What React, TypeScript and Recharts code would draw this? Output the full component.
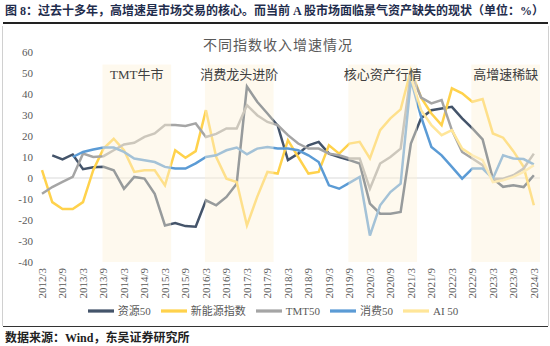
import React from "react";
import { LineChart, Line, XAxis, YAxis, ReferenceArea, ReferenceLine, Legend } from "recharts";

const quarters = [
  "2012/3", "2012/6", "2012/9", "2012/12", "2013/3", "2013/6", "2013/9", "2013/12",
  "2014/3", "2014/6", "2014/9", "2014/12", "2015/3", "2015/6", "2015/9", "2015/12",
  "2016/3", "2016/6", "2016/9", "2016/12", "2017/3", "2017/6", "2017/9", "2017/12",
  "2018/3", "2018/6", "2018/9", "2018/12", "2019/3", "2019/6", "2019/9", "2019/12",
  "2020/3", "2020/6", "2020/9", "2020/12", "2021/3", "2021/6", "2021/9", "2021/12",
  "2022/3", "2022/6", "2022/9", "2022/12", "2023/3", "2023/6", "2023/9", "2023/12",
  "2024/3",
];

const resources50 = [
  null, 10.8, 8.9, 11.2, 4.2, 5.1, 5.3, 3.7, -5.1, 0.5, -0.3, -7.5, -22.6, -21.5, -22.9, -23.2,
  -10.6, -13, -9, -2.7, 43.5, 36.3, 30.7, 25, 8.5, 11.6, 15.6, 17.2, 11.6, 10, 8.5, 6.9,
  -12.2, -17, -17, -16.2, 16.4, 28.5, 32.3, 33.1, 33.9, 28.4, 23.6, 18.4, -0.3, -4.2, -3.5, -4.3,
  1.3,
];

const newEnergy = [
  3.7, -11.5, -14.8, -14.8, -11.5, 3.7, 14, 18.7, 13.2, 2.9, 3.7, 3.7, -3.5, 13.2, 9.6, 12.8,
  32.3, 10, -0.3, -1.9, -22.6, -9, 2.9, 2.1, 18, 10, 2.1, 2.9, 15.6, 11.6, 16.4, 17.2,
  9.3, 22.8, 28.4, 32.7, 51.4, 38.3, 30.7, 25.2, 42.7, 40.3, 36.3, 37.6, 21.2, 19.2, 12.8, 5.3,
  -13,
];

const tmt50 = [
  -7.5, -4.3, -1.9, 0.5, 11.6, 10, 10.4, 13.2, 16, 16.8, 19.6, 21.2, 25.2, 25.2, 24.8, 26,
  19.5, 21, 23.6, 23.6, 34.7, 29.9, 26.7, 25.2, 20.4, 16.4, 14, 14, 11.6, 10.8, 9.3, 9.3,
  -5.1, 6.9, 10, 14, 49.9, 38.3, 35.5, 37.1, 22.8, 12.4, 9.3, 6.1, -0.3, -0.3, 1.3, 4.5,
  11.6,
];

const consumer50 = [
  null, null, null, 10, 12.4, 13.6, 14.5, 14.5, 12.4, 9.3, 8.5, 7.6, 5.3, 4.5, 4.5, 7,
  10, 10.8, 13.2, 14.5, 11.3, 14, 14.8, 14, 14, 13.2, 10.8, 7.6, -3.5, -5.1, -2.3, 0.5,
  -27.4, -13, -6.7, -2.7, 46.7, 29.1, 14.8, 10.8, 5.3, -0.3, 4.5, 4.5, -0.3, 10.8, 9.3, 9,
  6.5,
];

const ai50 = [
  null, null, null, null, null, null, null, null, null, null, null, null, null, null, null, null,
  null, null, null, null, null, null, null, null, null, null, null, null, null, null, null, null,
  null, null, null, null, 48, 32.3, 25.2, 20.4, 22.8, 14, 10.8, 8.5, -1.9, -1.1, 0.5, 2.9,
  6.1,
];

const seriesNames = ["资源50", "新能源指数", "TMT50", "消费50", "AI 50"];

const phases = [
  { name: "TMT牛市", from: "2013/9", to: "2015/3" },
  { name: "消费龙头进阶", from: "2016/3", to: "2017/9" },
  { name: "核心资产行情", from: "2019/9", to: "2021/3" },
  { name: "高增速稀缺", from: "2022/9", to: "2024/3" },
];

const yTicks = [-40, -30, -20, -10, 0, 10, 20, 30, 40, 50, 60];
const xTicks = quarters.map((_, i) => i).filter((i) => i % 2 === 0);

const data = quarters.map((q, i) => ({
  i,
  q,
  res: resources50[i],
  ne: newEnergy[i],
  tmt: tmt50[i],
  cons: consumer50[i],
  ai: ai50[i],
}));

const serif = "'Liberation Serif', 'Noto Sans CJK SC', serif";
const axisGrey = "#595959";

const QuarterTick = (props: any) => {
  const { x, y, payload } = props;
  return (
    <text
      x={x}
      y={y}
      transform={`rotate(-90, ${x}, ${y})`}
      textAnchor="end"
      dominantBaseline="central"
      fontSize={11}
      fill={axisGrey}
      fontFamily={serif}
    >
      {quarters[payload.value]}
    </text>
  );
};

export default function App() {
  const idx = (label: string) => quarters.indexOf(label);
  return (
    <div style={{ position: "absolute", left: 0, top: 0, width: 550, height: 346, background: "#fff", fontFamily: serif, overflow: "hidden" }}>
      <div style={{ position: "absolute", left: 5, top: 4, fontSize: 12, lineHeight: "14px", fontWeight: 700, color: "#1f2d4d", whiteSpace: "nowrap" }}>
        图 8：过去十多年，高增速是市场交易的核心。而当前 A 股市场面临景气资产缺失的现状（单位：%）
      </div>
      <div style={{ position: "absolute", left: 3, top: 22, width: 545, height: 0, borderTop: "2.5px solid #222" }} />
      <div style={{ position: "absolute", left: 2, top: 26, width: 545, height: 300, borderLeft: "1px solid #d0d0d0", borderRight: "1px solid #d0d0d0" }} />
      <div style={{ position: "absolute", left: 0, top: 34, width: 556, textAlign: "center", fontSize: 14, color: axisGrey, letterSpacing: 1 }}>
        不同指数收入增速情况
      </div>
      <div style={{ position: "absolute", left: 0, top: 0 }}>
        <LineChart width={550} height={346} data={data} margin={{ top: 52, right: 10, bottom: 44, left: 0 }}>
          <XAxis
            type="number"
            dataKey="i"
            domain={[0, 48.6]}
            ticks={xTicks}
            interval={0}
            axisLine={false}
            tickLine={false}
            tickSize={6}
            tickMargin={0}
            height={40}
            tick={<QuarterTick />}
          />
          <YAxis
            domain={[-40, 60]}
            ticks={yTicks}
            width={42}
            axisLine={false}
            tickLine={false}
            tickMargin={3}
            tick={{ fontSize: 11, fill: axisGrey, fontFamily: serif }}
          />
          <ReferenceLine y={0} stroke="#d9d9d9" strokeWidth={1} />
          <Line dataKey="res" name={seriesNames[0]} stroke="#44546a" strokeWidth={2.5} dot={false} isAnimationActive={false} />
          <Line dataKey="ne" name={seriesNames[1]} stroke="#ffd24c" strokeWidth={2.5} dot={false} isAnimationActive={false} />
          <Line dataKey="tmt" name={seriesNames[2]} stroke="#a5a5a5" strokeWidth={2.5} dot={false} isAnimationActive={false} />
          <Line dataKey="cons" name={seriesNames[3]} stroke="#5b9bd5" strokeWidth={2.5} dot={false} isAnimationActive={false} />
          <Line dataKey="ai" name={seriesNames[4]} stroke="#ffe699" strokeWidth={2.5} dot={false} isAnimationActive={false} />
          {phases.map((p) => (
            <ReferenceArea
              key={p.name}
              x1={idx(p.from) - 0.1}
              x2={idx(p.to) + 0.6}
              y1={-40}
              y2={54}
              fill="#fdf2d9"
              fillOpacity={0.45}
              stroke="none"
              ifOverflow="visible"
              zIndex={450}
              label={{ value: p.name, position: "insideTop", offset: 5, fontSize: 13, fill: "#404040", fontFamily: serif }}
            />
          ))}
          <Legend
            verticalAlign="middle"
            align="center"
            iconType="plainline"
            iconSize={26}
            itemSorter={(item: any) => seriesNames.indexOf(item.value)}
            wrapperStyle={{ top: 298, left: 0, width: 556 }}
            formatter={(value: string) => (
              <span style={{ color: axisGrey, fontSize: 11, fontFamily: serif }}>{value}</span>
            )}
          />
        </LineChart>
      </div>
      <div style={{ position: "absolute", left: 3, top: 326, width: 545, height: 0, borderTop: "1.5px solid #333" }} />
      <div style={{ position: "absolute", left: 5, top: 331, fontSize: 12, lineHeight: "14px", fontWeight: 600, color: "#222", whiteSpace: "nowrap" }}>
        数据来源：Wind，东吴证券研究所
      </div>
    </div>
  );
}
